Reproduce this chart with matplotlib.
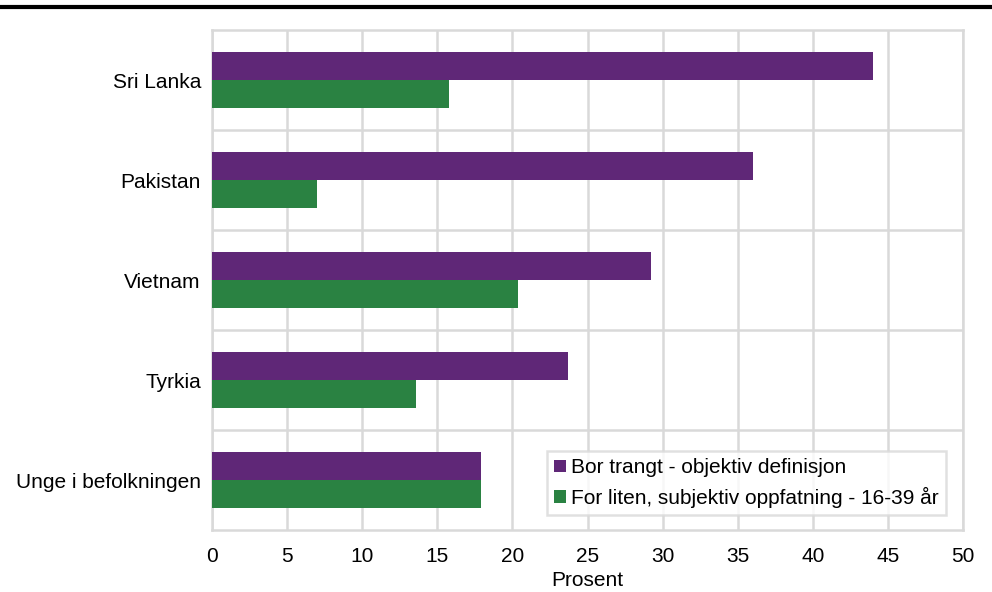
import matplotlib
matplotlib.use("Agg")
import matplotlib.pyplot as plt
from matplotlib.lines import Line2D
import numpy as np

plt.rcParams['font.family'] = ['Liberation Sans', 'DejaVu Sans']

categories = ["Sri Lanka", "Pakistan", "Vietnam", "Tyrkia", "Unge i befolkningen"]
objektiv = [44.0, 36.0, 29.2, 23.7, 17.9]
subjektiv = [15.8, 7.0, 20.4, 13.6, 17.9]
series_names = ["Bor trangt - objektiv definisjon",
                "For liten, subjektiv oppfatning - 16-39 år"]
xticks = [0, 5, 10, 15, 20, 25, 30, 35, 40, 45, 50]

purple = "#5f2777"
green = "#2a8242"
grid = "#d9d9d9"
fs = 15

fig = plt.figure(figsize=(9.92, 5.92), dpi=100)
ax = fig.add_axes([212/992, (592-530)/592, (963-212)/992, 500/592])

y = np.arange(len(categories))
h = 0.28
ax.barh(y - h/2, objektiv, height=h, color=purple, label=series_names[0], zorder=3)
ax.barh(y + h/2, subjektiv, height=h, color=green, label=series_names[1], zorder=3)

ax.set_ylim(len(categories) - 0.5, -0.5)
ax.set_xlim(0, 50)
ax.set_xticks(xticks)
ax.set_yticks(y)
ax.set_yticklabels(categories, fontsize=fs)
ax.set_yticks(np.arange(len(categories) - 1) + 0.5, minor=True)
ax.tick_params(axis='x', labelsize=fs, length=0, pad=12)
ax.tick_params(axis='y', which='both', length=0, pad=8)
ax.grid(axis='x', color=grid, linewidth=1.8, zorder=0)
ax.grid(axis='y', which='minor', color=grid, linewidth=1.8, zorder=0)
for s in ax.spines.values():
    s.set_color(grid)
    s.set_linewidth(1.8)
ax.set_xlabel("Prosent", fontsize=fs, labelpad=4)

leg = ax.legend(loc='lower right', bbox_to_anchor=(0.977, 0.03), fontsize=fs,
                frameon=True, fancybox=False, handlelength=0.55, handleheight=0.55,
                handletextpad=0.25, borderpad=0.35, labelspacing=0.45, borderaxespad=0)
leg.get_frame().set_edgecolor(grid)
leg.get_frame().set_linewidth(1.8)
leg.set_zorder(5)

fig.add_artist(Line2D([2/992, 1.0], [1 - 6.5/592, 1 - 6.5/592], color='black',
                      linewidth=3, transform=fig.transFigure))

fig.savefig("out.png", dpi=100)
